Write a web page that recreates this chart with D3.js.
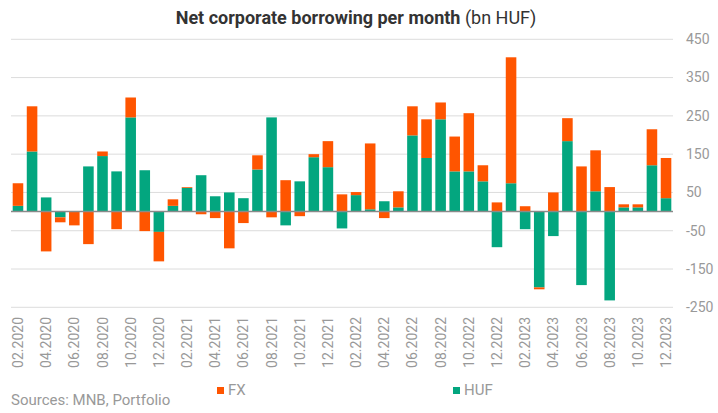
<!DOCTYPE html>
<html>
<head>
<meta charset="utf-8">
<script src="https://cdn.jsdelivr.net/npm/d3@7"></script>
<style>
  body { margin: 0; background: #fff; }
  svg { font-family: Roboto, 'Noto Sans', sans-serif; }
</style>
</head>
<body>
<div id="chart"></div>
<script>
// monthly data, 02.2020 - 12.2023
var months = [
  '02.2020', '03.2020', '04.2020', '05.2020', '06.2020', '07.2020', '08.2020', '09.2020', '10.2020', '11.2020', '12.2020',
  '01.2021', '02.2021', '03.2021', '04.2021', '05.2021', '06.2021', '07.2021', '08.2021', '09.2021', '10.2021', '11.2021', '12.2021',
  '01.2022', '02.2022', '03.2022', '04.2022', '05.2022', '06.2022', '07.2022', '08.2022', '09.2022', '10.2022', '11.2022', '12.2022',
  '01.2023', '02.2023', '03.2023', '04.2023', '05.2023', '06.2023', '07.2023', '08.2023', '09.2023', '10.2023', '11.2023', '12.2023'
]
var hufValues = [
  15, 157, 37, -15, 1, 118, 145, 105, 246, 108, -53,
  15, 62, 95, 40, 50, 35, 110, 246, -36, 79, 142, 116,
  -44, 43, 6, 27, 11, 199, 140, 241, 105, 105, 79, -93,
  74, -46, -198, -64, 184, -192, 53, -232, 11, 11, 121, 35
]
var fxValues = [
  59, 118, -104, -13, -36, -85, 12, -46, 52, -51, -77,
  17, 2, -7, -17, -96, -30, 37, -15, 82, -12, 8, 68,
  45, 8, 172, -17, 42, 76, 101, 44, 91, 152, 42, 24,
  329, 14, -5, 50, 60, 118, 107, 64, 8, 8, 94, 105
]
var yTicks = [450, 350, 250, 150, 50, -50, -150, -250]

var width = 718
var height = 413
var colors = { HUF: '#03a67f', FX: '#ff5500' }

var rows = months.map(function(m, i) {
  return { month: m, HUF: hufValues[i], FX: fxValues[i] }
})

var svg = d3.select('#chart')
  .append('svg')
  .attr('width', width)
  .attr('height', height)

var x = d3.scaleBand()
  .domain(months)
  .range([11, 673])
  .paddingInner(0.25)
  .paddingOuter(0.12)

var y = d3.scaleLinear()
  .domain([-250, 450])
  .range([307.3, 39.3])

// gridlines
svg.append('g')
  .selectAll('line')
  .data(yTicks)
  .enter()
  .append('line')
  .attr('x1', 11)
  .attr('x2', 673)
  .attr('y1', function(d) { return y(d) })
  .attr('y2', function(d) { return y(d) })
  .attr('stroke', '#dcdcdc')
  .attr('stroke-width', 1)

// y labels on the right
svg.append('g')
  .selectAll('text')
  .data(yTicks)
  .enter()
  .append('text')
  .attr('x', 686)
  .attr('y', function(d) { return y(d) })
  .attr('dy', '0.35em')
  .attr('fill', '#999')
  .style('font-size', '14px')
  .text(function(d) { return d })

// stacked bars, HUF next to zero, FX outside
var stack = d3.stack()
  .keys(['HUF', 'FX'])
  .offset(d3.stackOffsetDiverging)
var series = stack(rows)

svg.append('g')
  .selectAll('g')
  .data(series)
  .enter()
  .append('g')
  .attr('fill', function(s) { return colors[s.key] })
  .selectAll('rect')
  .data(function(s) { return s })
  .enter()
  .append('rect')
  .attr('x', function(d) { return x(d.data.month) })
  .attr('width', x.bandwidth())
  .attr('y', function(d) { return y(Math.max(d[0], d[1])) })
  .attr('height', function(d) { return Math.abs(y(d[0]) - y(d[1])) })

// zero line
svg.append('line')
  .attr('x1', 11)
  .attr('x2', 673)
  .attr('y1', y(0))
  .attr('y2', y(0))
  .attr('stroke', '#8a8a8a')
  .attr('stroke-width', 1.5)

// x labels, every second month
svg.append('g')
  .selectAll('text')
  .data(months.filter(function(m, i) { return i % 2 === 0 }))
  .enter()
  .append('text')
  .attr('transform', function(d) {
    return 'translate(' + (x(d) + x.bandwidth() / 2) + ',317) rotate(-90)'
  })
  .attr('text-anchor', 'end')
  .attr('dy', '0.36em')
  .attr('fill', '#999')
  .style('font-size', '14px')
  .text(function(d) { return d })

// title
var title = svg.append('text')
  .attr('x', 356)
  .attr('y', 24)
  .attr('text-anchor', 'middle')
  .attr('fill', '#333')
  .style('font-size', '18px')
title.append('tspan').style('font-weight', 'bold').text('Net corporate borrowing per month')
title.append('tspan').text(' (bn HUF)')

// legend
var legend = [['FX', 217], ['HUF', 453]]
legend.forEach(function(l) {
  svg.append('rect')
    .attr('x', l[1])
    .attr('y', 387)
    .attr('width', 7)
    .attr('height', 7)
    .attr('fill', colors[l[0]])
  svg.append('text')
    .attr('x', l[1] + 11)
    .attr('y', 390)
    .attr('dy', '0.36em')
    .attr('fill', '#999')
    .style('font-size', '15px')
    .text(l[0])
})

// source
svg.append('text')
  .attr('x', 11)
  .attr('y', 405)
  .attr('fill', '#999')
  .style('font-size', '15px')
  .text('Sources: MNB, Portfolio')
</script>
</body>
</html>
